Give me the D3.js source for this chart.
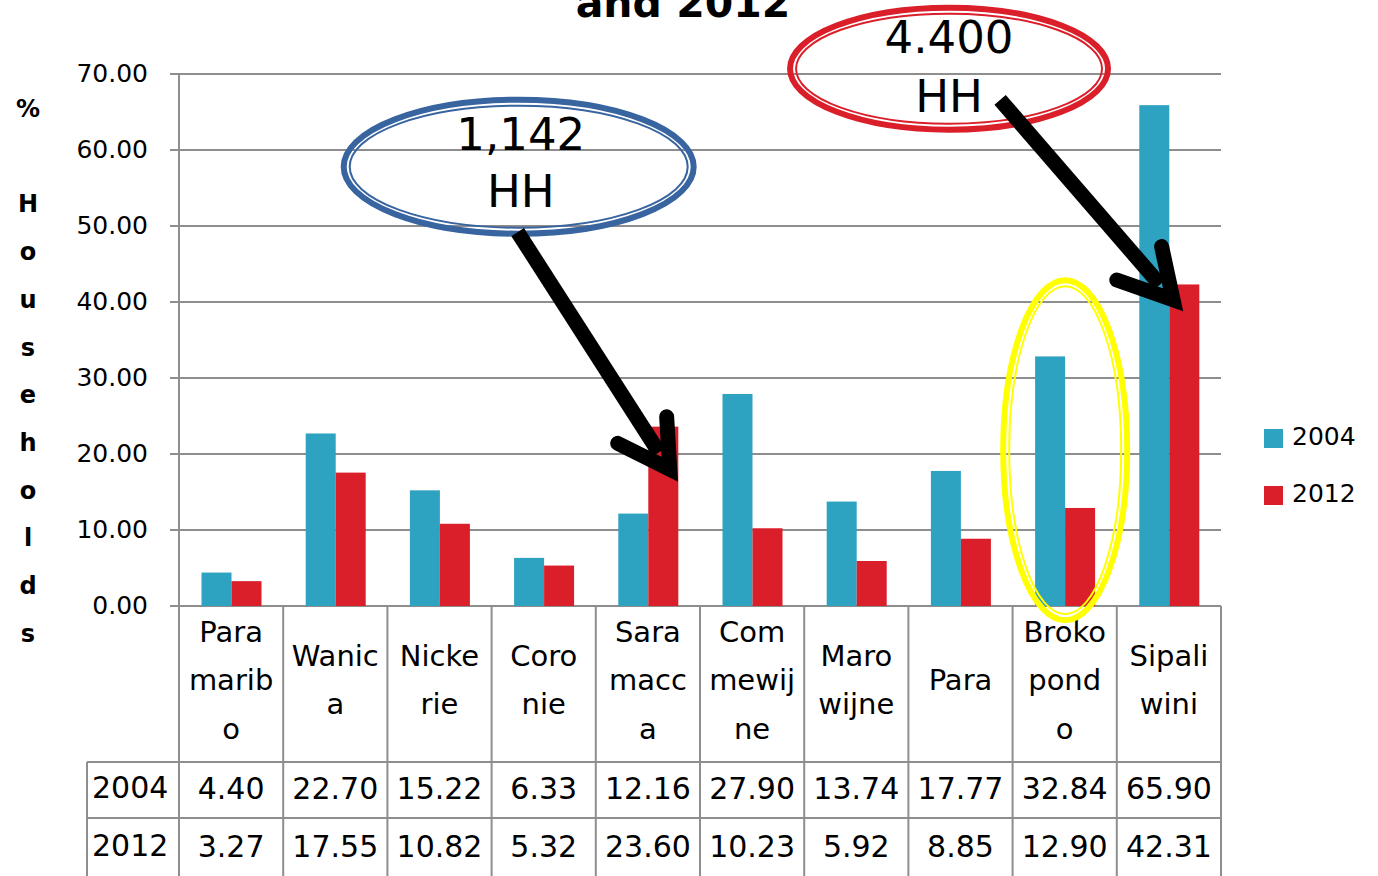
<!DOCTYPE html>
<html>
<head>
<meta charset="utf-8">
<script src="https://cdn.jsdelivr.net/npm/d3@7"></script>
<style>
  body { margin: 0; background: #fff; }
  svg { display: block; font-family: "DejaVu Sans", Verdana, sans-serif; }
</style>
</head>
<body>
<div id="chart"></div>
<script>
// chart values
var categories = ["Paramaribo", "Wanica", "Nickerie", "Coronie", "Saramacca",
                  "Commewijne", "Marowijne", "Para", "Brokopondo", "Sipaliwini"];
// how the category names are broken in the table cells
var labelLines = [["Para", "marib", "o"], ["Wanic", "a"], ["Nicke", "rie"], ["Coro", "nie"],
                  ["Sara", "macc", "a"], ["Com", "mewij", "ne"], ["Maro", "wijne"], ["Para"],
                  ["Broko", "pond", "o"], ["Sipali", "wini"]];
var seriesNames = ["2004", "2012"];
var values2004 = [4.40, 22.70, 15.22, 6.33, 12.16, 27.90, 13.74, 17.77, 32.84, 65.90];
var values2012 = [3.27, 17.55, 10.82, 5.32, 23.60, 10.23, 5.92, 8.85, 12.90, 42.31];
var yTicks = [0, 10, 20, 30, 40, 50, 60, 70];
var yTitle = "% Households";
var titleTail = "and 2012";

var colors = {"2004": "#2ea2c1", "2012": "#da1f2a"};

// plot box (note: "top" is taken by window.top, so prefixed names)
var W = 1378, H = 876;
var plotLeft = 179, plotRight = 1221, plotTop = 74, plotBottom = 606;
var rowTop = 762, rowMid = 818;

var svg = d3.select("#chart").append("svg")
    .attr("width", W)
    .attr("height", H);

var x = d3.scaleBand().domain(categories).range([plotLeft, plotRight]);
var xs = d3.scaleBand().domain(seriesNames).range([22.5, 82.5]);
var y = d3.scaleLinear().domain([0, 70]).range([plotBottom, plotTop]);
// fractional column index, used to place the hand-drawn annotations
var xi = d3.scaleLinear().domain([0, categories.length]).range([plotLeft, plotRight]);

// title (only the last line is inside the picture)
svg.append("text")
    .attr("x", 683).attr("y", 17)
    .attr("text-anchor", "middle")
    .attr("font-size", 41).attr("font-weight", "bold")
    .text(titleTail);

// gridlines
svg.append("g").selectAll("line")
    .data(yTicks)
    .enter().append("line")
    .attr("x1", plotLeft - 9).attr("x2", plotRight)
    .attr("y1", function (d) { return y(d); })
    .attr("y2", function (d) { return y(d); })
    .attr("stroke", "#8e8e8e").attr("stroke-width", 2);

// y axis labels
var yAxis = svg.append("g")
    .attr("transform", "translate(" + plotLeft + ",0)")
    .call(d3.axisLeft(y).tickValues(yTicks).tickFormat(d3.format(".2f"))
        .tickSize(9).tickPadding(22));
yAxis.select(".domain").remove();
yAxis.selectAll("line").remove();
yAxis.selectAll("text")
    .attr("font-family", "DejaVu Sans")
    .attr("font-size", 25)
    .attr("dy", "0.28em")
    .attr("fill", "#000");

// axis title, one letter under the other
svg.append("g").selectAll("text")
    .data(yTitle.split(""))
    .enter().append("text")
    .attr("x", 28)
    .attr("y", function (d, i) { return 117 + i * 47.7; })
    .attr("text-anchor", "middle")
    .attr("font-size", 24).attr("font-weight", "bold")
    .text(function (d) { return d; });

// bars
var series = [values2004, values2012];
var groups = svg.append("g").selectAll("g")
    .data(categories)
    .enter().append("g")
    .attr("transform", function (d) { return "translate(" + x(d) + ",0)"; });
groups.selectAll("rect")
    .data(function (d, i) {
        return seriesNames.map(function (s, j) { return {key: s, value: series[j][i]}; });
    })
    .enter().append("rect")
    .attr("x", function (d) { return xs(d.key); })
    .attr("width", xs.bandwidth())
    .attr("y", function (d) { return y(d.value); })
    .attr("height", function (d) { return y(0) - y(d.value); })
    .attr("fill", function (d) { return colors[d.key]; });

// data table
var grid = svg.append("g").attr("stroke", "#8e8e8e").attr("stroke-width", 2);
grid.append("line").attr("x1", plotLeft).attr("x2", plotLeft).attr("y1", plotTop).attr("y2", H);
grid.selectAll(".col")
    .data(categories.slice(1).map(function (c) { return x(c); }).concat([plotRight]))
    .enter().append("line")
    .attr("x1", function (d) { return d; }).attr("x2", function (d) { return d; })
    .attr("y1", plotBottom).attr("y2", H);
grid.append("line").attr("x1", 87).attr("x2", 87).attr("y1", rowTop).attr("y2", H);
[rowTop, rowMid].forEach(function (ry) {
    grid.append("line").attr("x1", 87).attr("x2", plotRight).attr("y1", ry).attr("y2", ry);
});

// category names
var lineH = 48.5;
svg.append("g").selectAll("text")
    .data(categories)
    .enter().append("text")
    .attr("text-anchor", "middle")
    .attr("font-size", 29)
    .each(function (d, i) {
        var lines = labelLines[i];
        var y0 = 690 - (lines.length - 1) * lineH / 2;
        d3.select(this).selectAll("tspan")
            .data(lines)
            .enter().append("tspan")
            .attr("x", x(d) + x.bandwidth() / 2)
            .attr("y", function (t, k) { return y0 + k * lineH; })
            .text(function (t) { return t; });
    });

// value rows
[values2004, values2012].forEach(function (vals, r) {
    var by = r === 0 ? 799 : 857;
    svg.append("text")
        .attr("x", 92).attr("y", by - 1)
        .attr("font-size", 30)
        .text(seriesNames[r]);
    svg.append("g").selectAll("text")
        .data(vals)
        .enter().append("text")
        .attr("x", function (d, i) { return x(categories[i]) + x.bandwidth() / 2; })
        .attr("y", by)
        .attr("text-anchor", "middle")
        .attr("font-size", 30)
        .text(function (d) { return d3.format(".2f")(d); });
});

// legend
var legend = svg.append("g").selectAll("g")
    .data(seriesNames)
    .enter().append("g")
    .attr("transform", function (d, i) { return "translate(1264," + (429 + i * 57) + ")"; });
legend.append("rect")
    .attr("width", 19).attr("height", 19)
    .attr("fill", function (d) { return colors[d]; });
legend.append("text")
    .attr("x", 28).attr("y", 16)
    .attr("font-size", 25)
    .text(function (d) { return d; });

// annotations: double-lined ellipses
function ring(cx, cy, rx, ry, color) {
    var g = svg.append("g").attr("fill", "none").attr("stroke", color);
    g.append("ellipse").attr("cx", cx).attr("cy", cy).attr("rx", rx).attr("ry", ry)
        .attr("stroke-width", 6);
    g.append("ellipse").attr("cx", cx).attr("cy", cy).attr("rx", rx - 6).attr("ry", ry - 6)
        .attr("stroke-width", 2);
}
ring(xi(3.26), y(57.8), 175, 67, "#3864a0");
ring(xi(7.39), y(70.7), 159, 61, "#da1f2a");
ring(x("Brokopondo") + x.bandwidth() / 2 + 0.5, y(20.5), 62, 170, "#ffff00");

svg.append("g")
    .attr("text-anchor", "middle").attr("font-size", 45)
    .selectAll("text")
    .data([{t: "1,142", cx: 3.28, b: 150}, {t: "HH", cx: 3.28, b: 207},
           {t: "4.400", cx: 7.39, b: 53}, {t: "HH", cx: 7.39, b: 112}])
    .enter().append("text")
    .attr("x", function (d) { return xi(d.cx); })
    .attr("y", function (d) { return d.b; })
    .text(function (d) { return d.t; });

// arrows
function arrow(tail, tip, barbA, barbB) {
    var g = svg.append("g").attr("fill", "none").attr("stroke", "#000").attr("stroke-width", 15);
    var p = function (a) { return [xi(a[0]), y(a[1])]; };
    var T = p(tip), S = p(tail);
    // stop the shaft a bit short of the tip so it does not poke out
    var dx = T[0] - S[0], dy = T[1] - S[1], len = Math.sqrt(dx * dx + dy * dy);
    g.append("line")
        .attr("x1", S[0]).attr("y1", S[1])
        .attr("x2", T[0] - dx / len * 20).attr("y2", T[1] - dy / len * 20);
    g.append("path")
        .attr("d", d3.line()([p(barbA), T, p(barbB)]))
        .attr("stroke-linecap", "round")
        .attr("stroke-linejoin", "miter")
        .attr("stroke-miterlimit", 10);
}
arrow([3.25, 49.2], [4.71, 18.0], [4.68, 24.9], [4.21, 21.4]);
arrow([7.88, 66.6], [9.54, 40.3], [9.43, 47.3], [9.0, 42.9]);
</script>
</body>
</html>
